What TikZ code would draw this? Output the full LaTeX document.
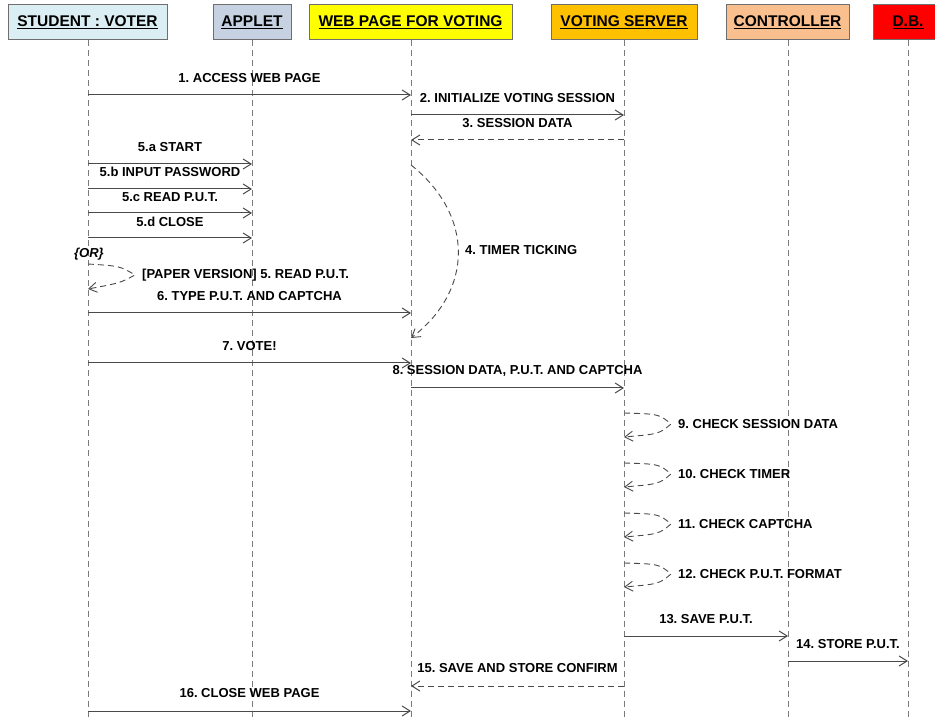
\documentclass[tikz,border=0pt]{standalone}
\usepackage{fontspec}
\setmainfont{Liberation Sans}
\usetikzlibrary{arrows.meta}
\definecolor{hdrline}{HTML}{6E6E6E}
\definecolor{lifeline}{HTML}{7A7A7A}
\definecolor{msgline}{HTML}{4A4A4A}
\definecolor{cStudent}{HTML}{DAEEF3}
\definecolor{cApplet}{HTML}{C6D1E1}
\definecolor{cWeb}{HTML}{FFFF00}
\definecolor{cServer}{HTML}{FFC000}
\definecolor{cCtrl}{HTML}{FABF8F}
\definecolor{cDB}{HTML}{FF0000}
\frenchspacing
\begin{document}
\begin{tikzpicture}[x=1pt,y=-1pt,
  hdr/.style={draw=hdrline, line width=1pt, minimum height=35pt, inner sep=0pt,
    font=\fontsize{15.5}{18}\selectfont\bfseries},
  life/.style={draw=lifeline, line width=0.9pt, dash pattern=on 6pt off 4pt},
  msgarr/.style={draw=msgline, line width=1pt, -{Straight Barb[length=8pt,width=10pt]}},
  retarr/.style={msgarr, dash pattern=on 6pt off 4pt},
  selfarr/.style={draw=msgline, line width=0.9pt, dash pattern=on 6pt off 4pt,
    -{Straight Barb[length=8pt,width=10pt]}},
  lbl/.style={font=\fontsize{13}{15}\selectfont\bfseries, inner sep=0pt},
]
\useasboundingbox (0,0) rectangle (935,719);
\clip (0,0) rectangle (935,719);
\fill[white] (0,0) rectangle (935,719);

% headers
\node[hdr, fill=cStudent, minimum width=159pt] (hS) at (87.5,22.5) {\underline{STUDENT : VOTER}};
\node[hdr, fill=cApplet, minimum width=78pt] (hA) at (252,22.5) {\underline{APPLET}};
\node[hdr, fill=cWeb, minimum width=203pt] (hW) at (410.5,22.5) {\underline{WEB PAGE FOR VOTING}};
\node[hdr, fill=cServer, minimum width=146pt] (hV) at (624,22.5) {\underline{VOTING SERVER}};
\node[hdr, fill=cCtrl, minimum width=123pt] (hC) at (787.5,22.5) {\underline{CONTROLLER}};
\node[hdr, fill=cDB, minimum width=70pt] (hD) at (908,22.5) {\underline{D.B.}};

% lifeline x positions
\def\xS{88}\def\xA{252}\def\xW{411}\def\xV{624}\def\xC{788}\def\xD{908}
\coordinate (eS) at (\xS,719);
\coordinate (eA) at (\xA,719);
\coordinate (eW) at (\xW,719);
\coordinate (eV) at (\xV,719);
\coordinate (eC) at (\xC,719);
\coordinate (eD) at (\xD,719);
\draw[life] (hS.south -| eS) -- (eS);
\draw[life] (hA.south -| eA) -- (eA);
\draw[life] (hW.south -| eW) -- (eW);
\draw[life] (hV.south -| eV) -- (eV);
\draw[life] (hC.south -| eC) -- (eC);
\draw[life] (hD.south -| eD) -- (eD);

% 1
\coordinate (m1a) at (\xS,95); \coordinate (m1b) at (\xW,95);
\draw[msgarr] (m1a) -- (m1b);
\node[lbl] (l1) at (249.5,78) {1. ACCESS WEB PAGE};
% 2
\coordinate (m2a) at (\xW,115); \coordinate (m2b) at (\xV,115);
\draw[msgarr] (m2a) -- (m2b);
\node[lbl] (l2) at (517.5,98) {2. INITIALIZE VOTING SESSION};
% 3
\coordinate (m3a) at (\xV,140); \coordinate (m3b) at (\xW,140);
\draw[retarr] (m3a) -- (m3b);
\node[lbl] (l3) at (517.5,123) {3. SESSION DATA};
% 5a-5d
\coordinate (m5aa) at (\xS,164); \coordinate (m5ab) at (\xA,164);
\draw[msgarr] (m5aa) -- (m5ab);
\node[lbl] (l5a) at (170,147) {5.a START};
\coordinate (m5ba) at (\xS,189); \coordinate (m5bb) at (\xA,189);
\draw[msgarr] (m5ba) -- (m5bb);
\node[lbl] (l5b) at (170,172) {5.b INPUT PASSWORD};
\coordinate (m5ca) at (\xS,213); \coordinate (m5cb) at (\xA,213);
\draw[msgarr] (m5ca) -- (m5cb);
\node[lbl] (l5c) at (170,197) {5.c READ P.U.T.};
\coordinate (m5da) at (\xS,238); \coordinate (m5db) at (\xA,238);
\draw[msgarr] (m5da) -- (m5db);
\node[lbl] (l5d) at (170,222) {5.d CLOSE};
% OR
\node[lbl, font=\fontsize{13}{15}\selectfont\bfseries\itshape] (lor) at (89,254) {\{OR\}};
\coordinate (p5a) at (\xS,264); \coordinate (p5b) at (\xS,289);
\draw[selfarr] (p5a) .. controls (120,266) .. (135,275) .. controls (120,283) .. (p5b);
\node[lbl, anchor=west] (lp5) at (142,275) {[PAPER VERSION] 5. READ P.U.T.};
% 6
\coordinate (m6a) at (\xS,313); \coordinate (m6b) at (\xW,313);
\draw[msgarr] (m6a) -- (m6b);
\node[lbl] (l6) at (249.5,296) {6. TYPE P.U.T. AND CAPTCHA};
% 4 timer
\coordinate (t4a) at (\xW,165); \coordinate (t4b) at (\xW,338);
\draw[selfarr] (t4a) .. controls (474,215) and (474,290) .. (t4b);
\node[lbl, anchor=west] (l4) at (465,250) {4. TIMER TICKING};
% 7
\coordinate (m7a) at (\xS,363); \coordinate (m7b) at (\xW,363);
\draw[msgarr] (m7a) -- (m7b);
\node[lbl] (l7) at (249.5,346) {7. VOTE!};
% 8
\coordinate (m8a) at (\xW,388); \coordinate (m8b) at (\xV,388);
\draw[msgarr] (m8a) -- (m8b);
\node[lbl] (l8) at (517.5,371) {8. SESSION DATA, P.U.T. AND CAPTCHA};
% 9-12 self checks
\foreach \n/\y/\t in {9/413/9. CHECK SESSION DATA, 10/463/10. CHECK TIMER,
                      11/513/11. CHECK CAPTCHA, 12/563/12. CHECK P.U.T. FORMAT}{
  \coordinate (c\n a) at (\xV,\y);
  \coordinate (c\n b) at (\xV,\y+24);
  \draw[selfarr] (c\n a) .. controls (\xV+35,\y+1) .. (\xV+47,\y+11)
     .. controls (\xV+35,\y+21) .. (c\n b);
  \node[lbl, anchor=west] (lc\n) at (\xV+54,\y+11) {\t};
}
% 13
\coordinate (m13a) at (\xV,636); \coordinate (m13b) at (\xC,636);
\draw[msgarr] (m13a) -- (m13b);
\node[lbl] (l13) at (706,619) {13. SAVE P.U.T.};
% 14
\coordinate (m14a) at (\xC,661); \coordinate (m14b) at (\xD,661);
\draw[msgarr] (m14a) -- (m14b);
\node[lbl] (l14) at (848,644) {14. STORE P.U.T.};
% 15
\coordinate (m15a) at (\xV,686); \coordinate (m15b) at (\xW,686);
\draw[retarr] (m15a) -- (m15b);
\node[lbl] (l15) at (517.5,668) {15. SAVE AND STORE CONFIRM};
% 16
\coordinate (m16a) at (\xS,711); \coordinate (m16b) at (\xW,711);
\draw[msgarr] (m16a) -- (m16b);
\node[lbl] (l16) at (249.5,693) {16. CLOSE WEB PAGE};
\end{tikzpicture}
\end{document}
